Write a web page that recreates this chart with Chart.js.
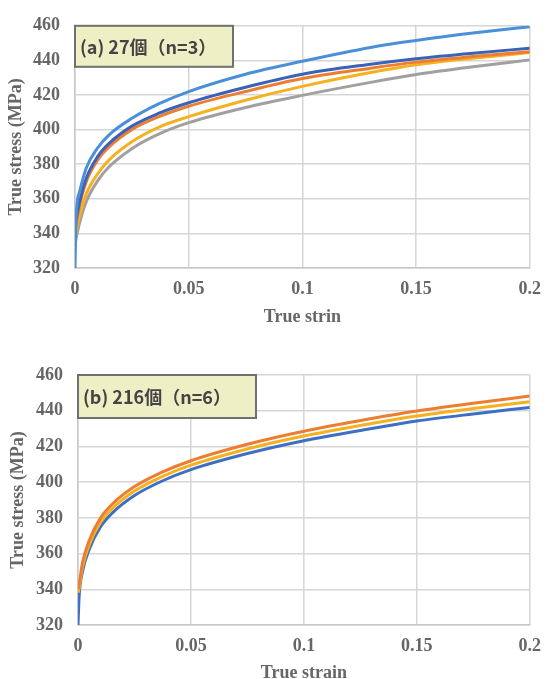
<!DOCTYPE html>
<html>
<head>
<meta charset="utf-8">
<script src="https://cdn.jsdelivr.net/npm/chart.js@4"></script>
<style>
  body { margin: 0; background: #fff; overflow: hidden; }
  .wrap { position: absolute; left: 0; }
</style>
</head>
<body>
<div class="wrap" style="top:0"><canvas id="chartA" width="552" height="340"></canvas></div>
<div class="wrap" style="top:345px"><canvas id="chartB" width="552" height="350"></canvas></div>
<script>
// strain values shared by every curve
const strain = [0, 0.0005, 0.002, 0.005, 0.01, 0.015, 0.025, 0.037, 0.05, 0.075, 0.1, 0.13, 0.15, 0.175, 0.2];

// (a) 27 grains, n=3
const aLightBlue = [320, 350, 364, 378, 389.5, 397, 406.5, 415, 422, 432, 439.5, 447.5, 451.5, 455.8, 459.5];
const aDarkBlue  = [343, 348, 358, 372, 384.5, 392, 402, 409.5, 415.5, 424.5, 432, 437.8, 441, 444.2, 447];
const aOrange    = [340, 345, 356, 370, 382.5, 390, 400, 407.5, 413.5, 422, 429.5, 435.5, 439, 442.2, 445];
const aYellow    = [336, 341, 350, 363, 374.5, 382.5, 393, 401.5, 407.5, 417, 425, 433, 437.5, 441.3, 444.5];
const aGray      = [333, 337, 346, 358.5, 370.5, 378.5, 389, 397.5, 404, 412.8, 419.8, 427.3, 431.8, 436.3, 440.3];

// (b) 216 grains, n=6
const bOrange = [340, 343, 355, 367.5, 380, 387.5, 397.5, 405.5, 412, 421.2, 428.5, 435.6, 439.8, 444.2, 448.2];
const bYellow = [338, 340.5, 352.5, 365, 377.5, 385, 395, 403, 409.5, 418.6, 425.8, 432.8, 437, 441.2, 445];
const bBlue   = [320, 336, 350, 362.5, 375, 382.5, 392.5, 400.5, 407, 416, 423.2, 430, 434.2, 438.2, 441.8];

const xTickLabels = ["0", "0.05", "0.1", "0.15", "0.2"];
const yTickLabels = ["320", "340", "360", "380", "400", "420", "440", "460"];

const toPoints = (vals) => strain.map((x, i) => ({ x: x, y: vals[i] }));

function line(vals, color) {
    return {
        data: toPoints(vals),
        borderColor: color,
        borderWidth: 3,
        pointRadius: 0,
        fill: false,
        cubicInterpolationMode: "monotone",
    };
}

const serif = "'Liberation Serif', 'Times New Roman', serif";
const textGray = "#666";

function labelBox(text, w, h) {
    return {
        id: "labelBox",
        afterDraw(chart) {
            const { ctx, chartArea } = chart;
            const x = chartArea.left, y = chartArea.top;
            ctx.save();
            ctx.fillStyle = "#efefc6";
            ctx.fillRect(x, y, w, h);
            ctx.strokeStyle = "#707070";
            ctx.lineWidth = 2;
            ctx.strokeRect(x, y, w, h);
            ctx.fillStyle = "#444";
            ctx.font = "bold 18px 'Noto Sans CJK JP', 'Noto Sans', sans-serif";
            ctx.textBaseline = "middle";
            ctx.fillText(text, x + 5, y + h / 2 + 1);
            ctx.restore();
        },
    };
}

function makeChart(id, datasets, opts) {
    return new Chart(document.getElementById(id), {
        type: "line",
        data: { datasets: datasets },
        options: {
            responsive: false,
            animation: false,
            layout: { padding: { left: 0, right: opts.padRight, top: opts.padTop, bottom: 0 } },
            plugins: { legend: { display: false }, tooltip: { enabled: false } },
            scales: {
                x: {
                    type: "linear",
                    min: 0,
                    max: 0.2,
                    afterBuildTicks: (s) => { s.ticks = xTickLabels.map((t) => ({ value: +t })); },
                    afterFit: (s) => { s.height = opts.xHeight; },
                    ticks: {
                        callback: (v, i) => xTickLabels[i],
                        font: { family: serif, size: 18, weight: "bold" },
                        color: textGray,
                        padding: 11,
                        maxRotation: 0,
                    },
                    grid: { color: "#d6d6d6", lineWidth: 1.5, drawTicks: false },
                    border: { color: "#c8c8c8", width: 1.5 },
                    title: {
                        display: true,
                        text: opts.xTitle,
                        font: { family: serif, size: 18, weight: "bold" },
                        color: textGray,
                        padding: { bottom: opts.xTitlePad, top: 0 },
                    },
                },
                y: {
                    min: 320,
                    max: 460,
                    afterBuildTicks: (s) => { s.ticks = yTickLabels.map((t) => ({ value: +t })); },
                    afterFit: (s) => { s.width = opts.yWidth; },
                    ticks: {
                        callback: (v, i) => yTickLabels[i],
                        font: { family: serif, size: 18, weight: "bold" },
                        color: textGray,
                        padding: 15,
                    },
                    grid: { color: "#d6d6d6", lineWidth: 1.5, drawTicks: false },
                    border: { color: "#c8c8c8", width: 1.5 },
                    title: {
                        display: true,
                        text: "True stress (MPa)",
                        font: { family: serif, size: 18, weight: "bold" },
                        color: textGray,
                        padding: { top: opts.yTitlePad, bottom: 0 },
                    },
                },
            },
        },
        plugins: [labelBox(opts.label, opts.boxW, opts.boxH)],
    });
}

makeChart("chartA", [
    line(aLightBlue, "#4a90d9"),
    line(aDarkBlue, "#3a62b8"),
    line(aOrange, "#ed7d31"),
    line(aYellow, "#f5b120"),
    line(aGray, "#a0a0a0"),
], {
    padRight: 15, padTop: 20, xHeight: 72, yWidth: 75,
    xTitle: "True strin", xTitlePad: 12, yTitlePad: 6,
    label: "(a) 27個（n=3）", boxW: 158, boxH: 41,
});

makeChart("chartB", [
    line(bOrange, "#ed7d31"),
    line(bYellow, "#f5b120"),
    line(bBlue, "#3d6fc6"),
], {
    padRight: 16, padTop: 30, xHeight: 70, yWidth: 78,
    xTitle: "True strain", xTitlePad: 11, yTitlePad: 8,
    label: "(b) 216個（n=6）", boxW: 178, boxH: 43,
});
</script>
</body>
</html>
